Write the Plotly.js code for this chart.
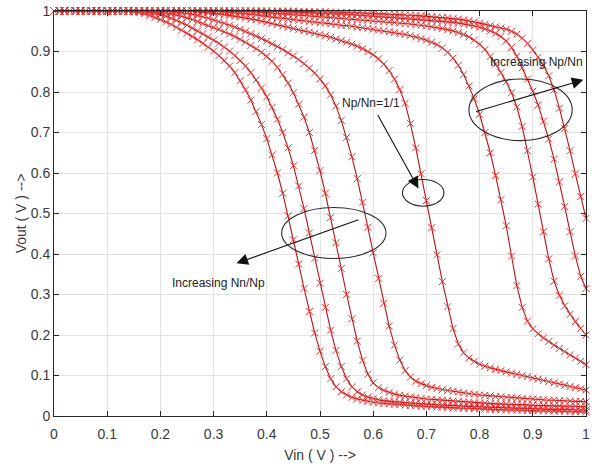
<!DOCTYPE html>
<html>
<head>
<meta charset="utf-8">
<script src="https://cdn.plot.ly/plotly-3.0.1.min.js"></script>
<style>
html,body{margin:0;padding:0;background:#fff;}
#chart{width:595px;height:472px;}
</style>
</head>
<body>
<div id="chart"></div>
<script>
// Input voltage sweep (V)
const vin = [
0.00,0.01,0.02,0.03,0.04,0.05,0.06,0.07,0.08,0.09,
0.10,0.11,0.12,0.13,0.14,0.15,0.16,0.17,0.18,0.19,
0.20,0.21,0.22,0.23,0.24,0.25,0.26,0.27,0.28,0.29,
0.30,0.31,0.32,0.33,0.34,0.35,0.36,0.37,0.38,0.39,
0.40,0.41,0.42,0.43,0.44,0.45,0.46,0.47,0.48,0.49,
0.50,0.51,0.52,0.53,0.54,0.55,0.56,0.57,0.58,0.59,
0.60,0.61,0.62,0.63,0.64,0.65,0.66,0.67,0.68,0.69,
0.70,0.71,0.72,0.73,0.74,0.75,0.76,0.77,0.78,0.79,
0.80,0.81,0.82,0.83,0.84,0.85,0.86,0.87,0.88,0.89,
0.90,0.91,0.92,0.93,0.94,0.95,0.96,0.97,0.98,0.99,
1.00];

// Output voltage curves, increasing Nn/Np to the left, Np/Nn = 1/1 in the middle, increasing Np/Nn to the right
const voutA = [
1,1,1,1,1,1,1,1,1,1,
1,1,1,1,0.999,0.998,0.996,0.993,0.989,0.984,
0.979,0.973,0.967,0.960,0.953,0.945,0.937,0.929,0.920,0.911,
0.901,0.890,0.878,0.864,0.848,0.828,0.805,0.780,0.752,0.720,
0.685,0.645,0.600,0.550,0.494,0.435,0.375,0.315,0.258,0.205,
0.160,0.122,0.092,0.072,0.060,0.052,0.046,0.042,0.039,0.036,
0.034,0.032,0.031,0.030,0.029,0.028,0.027,0.026,0.025,0.024,
0.024,0.023,0.022,0.022,0.021,0.020,0.020,0.019,0.019,0.018,
0.018,0.017,0.017,0.016,0.016,0.015,0.015,0.015,0.014,0.014,
0.014,0.013,0.013,0.013,0.012,0.012,0.012,0.011,0.011,0.011,
0.010];

const voutB = [
1,1,1,1,1,1,1,1,1,1,
1,1,1,1,1,1,0.999,0.998,0.996,0.994,
0.991,0.987,0.982,0.977,0.971,0.965,0.958,0.951,0.944,0.936,
0.928,0.920,0.911,0.901,0.890,0.878,0.864,0.848,0.830,0.810,
0.788,0.762,0.733,0.700,0.662,0.618,0.568,0.512,0.452,0.390,
0.328,0.268,0.212,0.162,0.122,0.092,0.072,0.060,0.052,0.047,
0.043,0.040,0.038,0.036,0.035,0.034,0.033,0.032,0.031,0.030,
0.029,0.028,0.028,0.027,0.026,0.026,0.025,0.024,0.024,0.023,
0.023,0.022,0.022,0.021,0.021,0.020,0.020,0.019,0.019,0.019,
0.018,0.018,0.017,0.017,0.017,0.016,0.016,0.016,0.015,0.015,
0.015];

const voutC = [
1,1,1,1,1,1,1,1,1,1,
1,1,1,1,1,1,1,1,0.999,0.998,
0.997,0.995,0.993,0.990,0.987,0.983,0.979,0.974,0.969,0.964,
0.960,0.955,0.949,0.943,0.937,0.930,0.923,0.915,0.907,0.898,
0.888,0.876,0.861,0.843,0.822,0.798,0.770,0.738,0.700,0.656,
0.606,0.550,0.490,0.428,0.364,0.300,0.240,0.185,0.138,0.103,
0.082,0.070,0.063,0.058,0.054,0.051,0.049,0.047,0.045,0.043,
0.042,0.041,0.040,0.039,0.038,0.037,0.036,0.035,0.034,0.033,
0.032,0.032,0.031,0.030,0.030,0.029,0.029,0.028,0.028,0.027,
0.027,0.026,0.026,0.025,0.025,0.025,0.024,0.024,0.024,0.023,
0.023];

const voutD = [
1,1,1,1,1,1,1,1,1,1,
1,1,1,1,1,1,1,1,1,1,
1,0.999,0.998,0.997,0.996,0.994,0.992,0.989,0.986,0.982,
0.978,0.974,0.970,0.965,0.960,0.955,0.950,0.944,0.938,0.932,
0.926,0.919,0.912,0.905,0.897,0.889,0.880,0.870,0.859,0.847,
0.832,0.815,0.793,0.765,0.730,0.688,0.640,0.586,0.528,0.466,
0.403,0.340,0.278,0.222,0.175,0.138,0.112,0.096,0.086,0.080,
0.075,0.071,0.068,0.065,0.063,0.061,0.059,0.057,0.055,0.054,
0.052,0.051,0.050,0.048,0.047,0.046,0.045,0.044,0.043,0.042,
0.042,0.041,0.040,0.039,0.039,0.038,0.037,0.037,0.036,0.036,
0.035];

const voutE = [
1,1,1,1,1,1,1,1,1,1,
1,1,1,1,1,1,1,1,1,1,
1,1,1,1,1,1,0.999,0.998,0.997,0.996,
0.995,0.993,0.991,0.989,0.987,0.985,0.983,0.980,0.978,0.975,
0.972,0.969,0.966,0.963,0.960,0.957,0.954,0.951,0.948,0.945,
0.942,0.939,0.935,0.931,0.927,0.923,0.918,0.913,0.907,0.900,
0.892,0.882,0.869,0.853,0.832,0.806,0.772,0.722,0.662,0.598,
0.532,0.465,0.398,0.332,0.270,0.216,0.178,0.156,0.143,0.135,
0.128,0.123,0.119,0.115,0.112,0.109,0.106,0.103,0.100,0.097,
0.094,0.091,0.088,0.085,0.082,0.079,0.076,0.073,0.070,0.067,
0.064];

const voutF = [
1,1,1,1,1,1,1,1,1,1,
1,1,1,1,1,1,1,1,1,1,
1,1,1,1,1,1,1,1,1,1,
1,0.999,0.998,0.997,0.996,0.995,0.994,0.992,0.990,0.988,
0.987,0.985,0.983,0.982,0.980,0.979,0.977,0.976,0.974,0.973,
0.971,0.970,0.968,0.967,0.965,0.964,0.962,0.960,0.959,0.957,
0.955,0.953,0.951,0.949,0.947,0.944,0.942,0.939,0.936,0.932,
0.928,0.923,0.917,0.909,0.898,0.884,0.866,0.843,0.815,0.783,
0.745,0.700,0.650,0.594,0.534,0.470,0.395,0.322,0.268,0.234,
0.215,0.203,0.193,0.184,0.175,0.167,0.159,0.151,0.143,0.135,
0.127];

const voutG = [
1,1,1,1,1,1,1,1,1,1,
1,1,1,1,1,1,1,1,1,1,
1,1,1,1,1,1,1,1,1,1,
1,1,1,1,1,1,0.999,0.999,0.998,0.997,
0.996,0.995,0.994,0.993,0.992,0.991,0.990,0.989,0.988,0.987,
0.986,0.985,0.984,0.983,0.982,0.981,0.980,0.979,0.978,0.977,
0.976,0.975,0.974,0.973,0.972,0.970,0.969,0.968,0.966,0.965,
0.963,0.961,0.959,0.957,0.954,0.951,0.947,0.942,0.936,0.928,
0.918,0.905,0.888,0.869,0.848,0.825,0.798,0.763,0.715,0.655,
0.590,0.523,0.455,0.388,0.333,0.298,0.272,0.251,0.233,0.216,
0.200];

const voutH = [
1,1,1,1,1,1,1,1,1,1,
1,1,1,1,1,1,1,1,1,1,
1,1,1,1,1,1,1,1,1,1,
1,1,1,1,1,1,1,1,1,1,
1,0.999,0.999,0.998,0.998,0.997,0.997,0.996,0.996,0.995,
0.995,0.994,0.994,0.993,0.993,0.992,0.991,0.991,0.990,0.989,
0.988,0.987,0.986,0.985,0.984,0.983,0.982,0.981,0.980,0.979,
0.978,0.977,0.976,0.975,0.973,0.972,0.970,0.968,0.966,0.963,
0.960,0.956,0.951,0.945,0.937,0.926,0.910,0.888,0.860,0.832,
0.802,0.768,0.728,0.684,0.634,0.578,0.517,0.455,0.395,0.345,
0.315];

const voutI = [
1,1,1,1,1,1,1,1,1,1,
1,1,1,1,1,1,1,1,1,1,
1,1,1,1,1,1,1,1,1,1,
1,1,1,1,1,1,1,1,1,1,
1,1,1,1,1,1,0.999,0.999,0.999,0.998,
0.998,0.998,0.997,0.997,0.997,0.996,0.996,0.995,0.995,0.994,
0.994,0.993,0.993,0.992,0.992,0.991,0.990,0.990,0.989,0.988,
0.987,0.986,0.985,0.984,0.983,0.981,0.980,0.978,0.976,0.973,
0.970,0.967,0.964,0.961,0.958,0.955,0.950,0.943,0.933,0.920,
0.904,0.886,0.866,0.840,0.805,0.760,0.710,0.655,0.598,0.542,
0.488];

const curves = [voutA, voutB, voutC, voutD, voutE, voutF, voutG, voutH, voutI];

const tickVals = [0,0.1,0.2,0.3,0.4,0.5,0.6,0.7,0.8,0.9,1];
const tickText = ['0','0.1','0.2','0.3','0.4','0.5','0.6','0.7','0.8','0.9','1'];

const xTitle = 'Vin ( V ) -->';
const yTitle = 'Vout ( V ) -->';
const labelEqual = 'Np/Nn=1/1';
const labelIncP = 'Increasing Np/Nn';
const labelIncN = 'Increasing Nn/Np';

const FONT = '"Liberation Sans", Arial, sans-serif';

const traces = curves.map(v => ({
  x: vin, y: v, type: 'scatter', mode: 'lines+markers',
  cliponaxis: false,
  line: {color: '#b81212', width: 1.1},
  marker: {symbol: 'x-thin', size: 7, color: '#f03030', line: {color: '#f03030', width: 1}},
  hoverinfo: 'skip', showlegend: false
}));

function ellipse(cx, cy, rx, ry) {
  return {type: 'circle', xref: 'x', yref: 'y', x0: cx - rx, x1: cx + rx, y0: cy - ry, y1: cy + ry,
          line: {color: '#2a2a2a', width: 1.1}, fillcolor: 'rgba(0,0,0,0)'};
}

function arrow(x0, y0, x1, y1) {
  return {x: x1, y: y1, ax: x0, ay: y0, xref: 'x', yref: 'y', axref: 'x', ayref: 'y',
          text: '', showarrow: true, arrowhead: 2, arrowsize: 2.1, arrowwidth: 1.1,
          arrowcolor: '#111', standoff: 0, startstandoff: 0};
}

function label(x, y, t) {
  return {x: x, y: y, xref: 'x', yref: 'y', text: t, showarrow: false,
          font: {family: FONT, size: 12, color: '#222'}};
}

const layout = {
  width: 595, height: 472,
  margin: {l: 54, r: 9, t: 11, b: 56},
  paper_bgcolor: '#fff', plot_bgcolor: '#fff',
  font: {family: FONT, color: '#333'},
  xaxis: {
    range: [0, 1], tickvals: tickVals, ticktext: tickText,
    showgrid: true, gridcolor: '#e2e2e2', gridwidth: 1,
    zeroline: false, showline: true, linecolor: '#262626', linewidth: 1,
    mirror: 'ticks', ticks: 'inside', ticklen: 5, tickcolor: '#262626',
    ticklabelstandoff: 5,
    tickfont: {family: FONT, size: 14, color: '#3a3a3a'},
    title: {text: xTitle, font: {family: FONT, size: 14, color: '#3a3a3a'}, standoff: 9}
  },
  yaxis: {
    range: [0, 1], tickvals: tickVals, ticktext: tickText,
    showgrid: true, gridcolor: '#e2e2e2', gridwidth: 1,
    zeroline: false, showline: true, linecolor: '#262626', linewidth: 1,
    mirror: 'ticks', ticks: 'inside', ticklen: 5, tickcolor: '#262626',
    tickfont: {family: FONT, size: 14, color: '#3a3a3a'},
    title: {text: yTitle, font: {family: FONT, size: 14, color: '#3a3a3a'}, standoff: 0}
  },
  shapes: [
    ellipse(0.694, 0.551, 0.039, 0.033),
    ellipse(0.877, 0.756, 0.097, 0.076),
    ellipse(0.526, 0.452, 0.098, 0.063)
  ],
  annotations: [
    arrow(0.607, 0.747, 0.685, 0.562),
    arrow(0.791, 0.751, 0.995, 0.830),
    arrow(0.575, 0.486, 0.343, 0.377),
    label(0.596, 0.773, labelEqual),
    label(0.907, 0.875, labelIncP),
    label(0.310, 0.328, labelIncN)
  ],
  showlegend: false
};

Plotly.newPlot('chart', traces, layout, {staticPlot: true, displayModeBar: false});
</script>
</body>
</html>
